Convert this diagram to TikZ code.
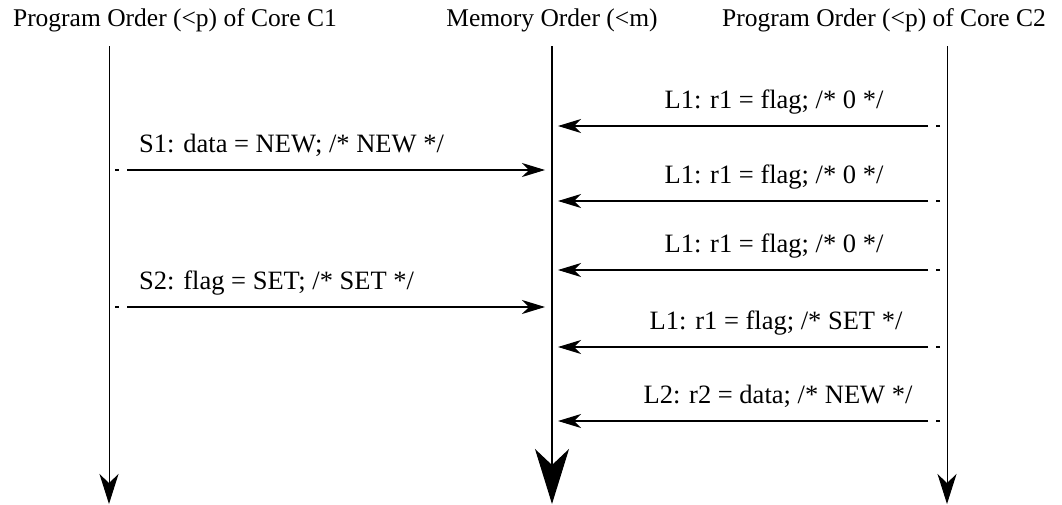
\documentclass[tikz,border=0pt]{standalone}
\usepackage{fontspec}
\setmainfont{Liberation Serif}
\usetikzlibrary{arrows.meta}
\begin{document}
\begin{tikzpicture}[x=1pt,y=-1pt,
  lbl/.style={inner sep=0pt,font=\fontsize{26.5}{30}\selectfont},
  ttl/.style={inner sep=0pt,font=\fontsize{25.5}{30}\selectfont},
  timeline/.style={line width=1pt,-{Stealth[length=30pt,width=19pt,inset=9pt]}},
  memline/.style={line width=1.1pt,-{Stealth[length=55pt,width=34pt,inset=16pt]}},
  msg/.style={line width=1.1pt,dash pattern=on 4pt off 8pt on 2000pt,
    -{Stealth[length=23pt,width=14pt,inset=7pt]}}]
\useasboundingbox (0,0) rectangle (1062,504);
% titles
\node[ttl] (t1) at (175,20) {Program Order (<p) of Core C1};
\node[ttl] (tm) at (552,20) {Memory Order (<m)};
\node[ttl] (t2) at (884,20) {Program Order (<p) of Core C2};
% timelines
\coordinate (c1top) at (109,46);
\coordinate (c1bot) at (109,504);
\coordinate (mtop) at (552,46);
\coordinate (mbot) at (552,504);
\coordinate (c2top) at (947,46);
\coordinate (c2bot) at (947,504);
\draw[timeline] (c1top) -- (c1bot);
\draw[memline] (mtop) -- (mbot);
\draw[timeline] (c2top) -- (c2bot);
% core C1 stores
\coordinate (s1a) at (115,170); \coordinate (s1b) at (545,170);
\coordinate (s2a) at (115,307); \coordinate (s2b) at (545,307);
\draw[msg] (s1a) -- (s1b);
\draw[msg] (s2a) -- (s2b);
\node[lbl,anchor=base west] (s1) at (139,152) {S1: data = NEW; /* NEW */};
\node[lbl,anchor=base west] (s2) at (139,289) {S2: flag = SET; /* SET */};
% core C2 loads
\foreach \n/\y in {la/126,lb/201,lc/270,ld/347,le/421}{
  \coordinate (\n a) at (940,\y); \coordinate (\n b) at (558,\y);
  \draw[msg] (\n a) -- (\n b);
}
\node[lbl,anchor=base] (l1a) at (774,108) {L1: r1 = flag; /* 0 */};
\node[lbl,anchor=base] (l1b) at (774,183) {L1: r1 = flag; /* 0 */};
\node[lbl,anchor=base] (l1c) at (774,252) {L1: r1 = flag; /* 0 */};
\node[lbl,anchor=base] (l1d) at (776,329) {L1: r1 = flag; /* SET */};
\node[lbl,anchor=base] (l2) at (778,403) {L2: r2 = data; /* NEW */};
\end{tikzpicture}
\end{document}
